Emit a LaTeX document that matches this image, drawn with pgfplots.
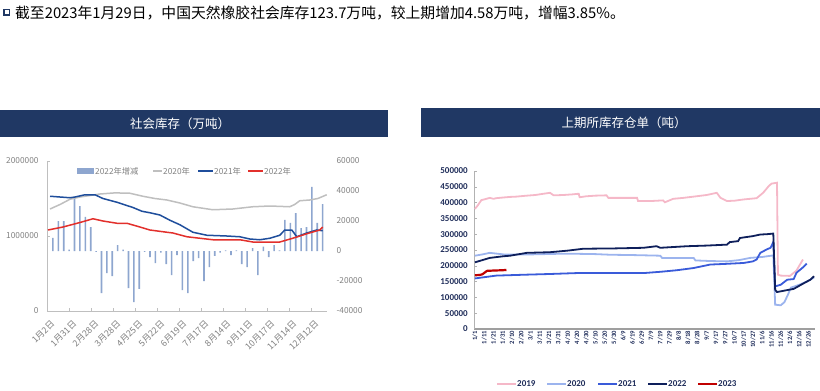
\documentclass[border=0pt]{standalone}
\usepackage{fontspec}
\setmainfont{Noto Sans CJK SC}
\newfontfamily\carl{Carlito}
\usepackage{pgfplots}
\pgfplotsset{compat=1.18}
\definecolor{navy}{HTML}{203864}
\definecolor{barc}{HTML}{8EA6CF}
\definecolor{g20}{HTML}{BFBFBF}
\definecolor{b21}{HTML}{1F4E9C}
\definecolor{r22}{HTML}{E2302C}
\definecolor{p19}{HTML}{F5B8C8}
\definecolor{lb20}{HTML}{9CB4EE}
\definecolor{mb21}{HTML}{3A5BD9}
\definecolor{nv22}{HTML}{0E1F5B}
\definecolor{rd23}{HTML}{C00000}
\definecolor{lab}{HTML}{1F2D5A}
\definecolor{tgray}{HTML}{808080}
\definecolor{axg}{HTML}{BFBFBF}
\begin{document}
\begin{tikzpicture}
\path[use as bounding box] (0pt,0pt) rectangle (820pt,-391pt);
% header
\draw[navy, line width=1.4pt] (4pt,-9.5pt) rectangle (9.5pt,-15pt);
\node[anchor=west, inner sep=0pt, font=\fontsize{14.8}{16}\selectfont] at (15pt,-12.7pt) {截至2023年1月29日，中国天然橡胶社会库存123.7万吨，较上期增加4.58万吨，增幅3.85\%。};
% title bars
\fill[navy] (0pt,-110pt) rectangle (388pt,-137pt);
\node[text=white, font=\fontsize{12.5}{14}\selectfont] at (180pt,-123.5pt) {社会库存（万吨）};
\fill[navy] (421pt,-108pt) rectangle (820pt,-137pt);
\node[text=white, font=\fontsize{12.5}{14}\selectfont] at (624pt,-123pt) {上期所库存仓单（吨）};

% ---------- left chart: bars (right axis)
\begin{axis}[
 at={(47pt,-311pt)}, anchor=south west, scale only axis, width=280pt, height=150pt,
 xmin=-1.1, xmax=50.8, ymin=-40000, ymax=60000,
 scaled y ticks=false,
 axis x line=none, axis y line*=right, y axis line style={draw=none},
 ytick={-40000,-20000,0,20000,40000,60000},
 yticklabels={-40000,-20000,0,20000,40000,60000},
 major tick length=0pt,
 yticklabel style={font=\fontsize{8.3}{9}\selectfont, text=tgray, anchor=west, xshift=6pt},
]
\addplot[ybar, bar width=1.6pt, fill=barc, draw=none] coordinates {
(0,8700)(1,20000)(2,20000)(3,1000)(4,35000)(5,30000)(6,22700)(7,16000)(8,-500)(9,-28000)
(10,-14700)(11,-16700)(12,4000)(13,1000)(14,-24700)(15,-34000)(16,-25300)(17,-500)(18,-4000)(19,-8000)
(20,-1000)(21,-8700)(22,-16000)(23,-2700)(24,-26000)(25,-28000)(26,-6700)(27,-4700)(28,-20000)(29,-10700)
(30,-3300)(31,-1000)(32,500)(33,-2700)(34,500)(35,-8700)(36,-10700)(37,2000)(38,-16000)(39,3000)
(40,-4000)(41,4000)(42,500)(43,20700)(44,18700)(45,25300)(46,15300)(47,16000)(48,42700)(49,18700)
(50,31300)};
\end{axis}

% ---------- left chart: lines (left axis)
\begin{axis}[
 at={(47pt,-311pt)}, anchor=south west, scale only axis, width=280pt, height=150pt,
 xmin=-1.1, xmax=50.8, ymin=0, ymax=2000000,
 scaled y ticks=false,
 axis x line*=bottom, axis y line*=left,
 axis line style={draw=axg, line width=0.6pt, -},
 xtick={-1.1,2.98,7.06,11.14,15.22,19.3,23.38,27.46,31.54,35.62,39.7,43.78,47.86},
 xticklabels={1月2日,1月31日,2月28日,3月28日,4月25日,5月22日,6月19日,7月17日,8月14日,9月11日,10月17日,11月14日,12月12日},
 ytick={0,1000000,2000000}, yticklabels={0,1000000,2000000},
 tick style={draw=axg, line width=0.5pt},
 major tick length=3pt,
 tick label style={font=\fontsize{8.3}{9}\selectfont, text=tgray},
 yticklabel style={xshift=-5pt},
 xticklabel style={font=\fontsize{8.8}{9}\selectfont, xshift=6pt, rotate=45, anchor=east, inner sep=0pt},
 xticklabel shift=11pt,
]
\addplot[g20, line width=1.5pt] coordinates {
(-0.54,1360000)(1.31,1420000)(3.16,1490000)(5.01,1520000)(6.86,1540000)(8.71,1560000)(11.49,1575000)(14.27,1570000)(16.68,1530000)(18.9,1500000)(21.12,1480000)(23.53,1440000)(25.94,1390000)(29.64,1350000)(33.34,1360000)(37.05,1390000)(40.2,1400000)(43.9,1390000)(44.8,1420000)(45.75,1470000)(47.6,1480000)(49.1,1500000)(50.75,1550000)};
\addplot[b21, line width=1.5pt] coordinates {
(-0.54,1530000)(3.16,1510000)(4.09,1520000)(5.94,1550000)(7.79,1550000)(9.27,1500000)(11.86,1450000)(14.83,1380000)(16.49,1330000)(17.97,1310000)(19.83,1280000)(21.68,1210000)(23.53,1150000)(25.94,1050000)(28.53,1010000)(32.23,1000000)(34.64,990000)(36.49,960000)(38.34,950000)(40.2,970000)(42.05,1010000)(42.97,1080000)(44.27,1080000)(45.2,990000)(47.05,1040000)(48.9,1080000)(50.0,1070000)};
\addplot[r22, line width=1.5pt] coordinates {
(-0.91,1080000)(1.86,1120000)(5.01,1180000)(7.42,1230000)(9.27,1200000)(11.86,1170000)(13.71,1170000)(16.12,1120000)(17.97,1080000)(21.12,1050000)(22.23,1040000)(24.83,990000)(29.64,950000)(34.64,950000)(37.05,920000)(42.05,920000)(44.46,970000)(47.05,1030000)(49.45,1080000)(50.0,1120000)};
\end{axis}
% left legend
\fill[barc] (77pt,-168pt) rectangle (94pt,-174pt);
\node[anchor=west, inner sep=0pt, text=tgray, font=\fontsize{8.3}{9}\selectfont] at (95pt,-171pt) {2022年增减};
\draw[g20, line width=1.5pt] (153pt,-171pt) -- (162pt,-171pt);
\node[anchor=west, inner sep=0pt, text=tgray, font=\fontsize{8.3}{9}\selectfont] at (163pt,-171pt) {2020年};
\draw[b21, line width=1.8pt] (198pt,-171pt) -- (213pt,-171pt);
\node[anchor=west, inner sep=0pt, text=tgray, font=\fontsize{8.3}{9}\selectfont] at (214pt,-171pt) {2021年};
\draw[r22, line width=1.8pt] (248pt,-171pt) -- (263pt,-171pt);
\node[anchor=west, inner sep=0pt, text=tgray, font=\fontsize{8.3}{9}\selectfont] at (264pt,-171pt) {2022年};

% ---------- right chart
\begin{axis}[
 at={(474pt,-329pt)}, anchor=south west, scale only axis, width=341pt, height=158pt,
 xmin=-1, xmax=367, ymin=0, ymax=500000,
 scaled y ticks=false,
 axis x line*=bottom, axis y line*=left,
 x axis line style={draw=gray!75, line width=2pt, -},
 y axis line style={draw=gray!60, line width=0.6pt, -},
 xtick={0,10,...,360},
 xticklabels={1/1,1/11,1/21,1/31,2/10,2/20,3/1,3/11,3/21,3/31,4/10,4/20,4/30,5/10,5/20,5/30,6/9,6/19,6/29,7/9,7/19,7/29,8/8,8/18,8/28,9/7,9/17,9/27,10/7,10/17,10/27,11/6,11/16,11/26,12/6,12/16,12/26},
 ytick={0,50000,...,500000},
 yticklabels={0,50000,100000,150000,200000,250000,300000,350000,400000,450000,500000},
 xtick style={draw=none},
 ytick style={draw=gray!60, line width=0.5pt},
 major tick length=3pt,
 yticklabel style={font=\carl\bfseries\fontsize{9}{10}\selectfont, text=lab, anchor=east, inner sep=1pt, xshift=-5pt},
 xticklabel style={font=\carl\bfseries\fontsize{6.6}{7}\selectfont, text=lab, rotate=90, anchor=east, inner sep=0pt},
 xticklabel shift=2pt,
]
\addplot[p19, line width=1.8pt] coordinates {
(0,380000)(3,391000)(7,408000)(10,410000)(16,415000)(20,412000)(23,414000)(30,416000)(38,418000)(45,419000)(56,422000)(65,424000)(74,428000)(81,431000)(85,423000)(95,424000)(105,426000)(112,428000)(113,417000)(120,420000)(130,422000)(142,423000)(144,415000)(160,415000)(175,415000)(176,405000)(190,405000)(203,407000)(205,401000)(214,412000)(225,415000)(239,420000)(250,424000)(261,431000)(265,415000)(272,405000)(280,406000)(290,410000)(304,414000)(311,431000)(317,452000)(320,460000)(326,463000)(327,172000)(330,169000)(340,168000)(347,185000)(354,220000)};
\addplot[lb20, line width=1.8pt] coordinates {
(0,232000)(8,236000)(16,241000)(25,238000)(31,236000)(60,236000)(90,238000)(110,238000)(130,237000)(146,235000)(170,234000)(200,232000)(202,225000)(220,225000)(236,225000)(238,217000)(255,215000)(272,214000)(285,218000)(297,225000)(310,228000)(322,233000)(324,77000)(330,75000)(334,85000)(338,110000)(341,131000)(350,140000)(358,150000)(366,163000)};
\addplot[mb21, line width=1.8pt] coordinates {
(0,160000)(5,162000)(23,169000)(56,172000)(80,174000)(110,177000)(150,177000)(182,177000)(200,181000)(218,186000)(236,193000)(254,204000)(270,206000)(290,209000)(300,214000)(304,220000)(308,241000)(315,252000)(319,257000)(322,275000)(324,135000)(330,140000)(337,156000)(344,158000)(347,178000)(354,195000)(358,207000)};
\addplot[nv22, line width=1.8pt] coordinates {
(0,211000)(8,218000)(16,225000)(30,230000)(38,232000)(56,241000)(81,243000)(100,248000)(117,254000)(150,255000)(182,257000)(196,262000)(200,257000)(229,262000)(250,264000)(272,267000)(275,275000)(284,278000)(286,288000)(300,294000)(308,299000)(315,300000)(322,302000)(324,124000)(326,117000)(335,122000)(344,127000)(355,145000)(362,156000)(366,167000)};
\addplot[rd23, line width=2.2pt] coordinates {
(0,170000)(5,171000)(8,173000)(13,184000)(20,185000)(30,186000)(34,187000)};
\end{axis}
% right legend
\begin{scope}[every node/.style={anchor=west, inner sep=0pt, text=lab, font=\carl\bfseries\fontsize{9}{10}\selectfont}]
\draw[p19, line width=2.2pt] (497pt,-384pt) -- (516pt,-384pt); \node at (517pt,-384pt) {2019};
\draw[lb20, line width=2.2pt] (547pt,-384pt) -- (566pt,-384pt); \node at (567pt,-384pt) {2020};
\draw[mb21, line width=2.2pt] (598pt,-384pt) -- (617pt,-384pt); \node at (618pt,-384pt) {2021};
\draw[nv22, line width=2.2pt] (648pt,-384pt) -- (667pt,-384pt); \node at (668pt,-384pt) {2022};
\draw[rd23, line width=2.2pt] (698pt,-384pt) -- (717pt,-384pt); \node at (718pt,-384pt) {2023};
\end{scope}
\end{tikzpicture}
\end{document}
